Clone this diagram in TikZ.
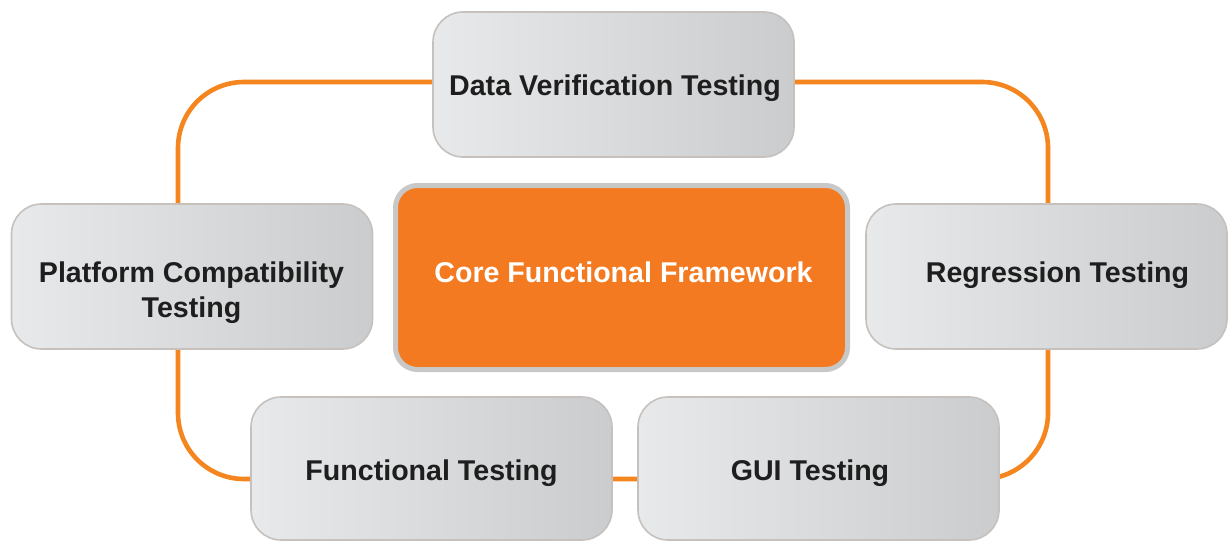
\documentclass[tikz,border=0pt]{standalone}
\usepackage{fontspec}
\setmainfont{Liberation Sans}
\definecolor{loop}{HTML}{F5861F}
\definecolor{coreorange}{HTML}{F37A20}
\definecolor{coreedge}{HTML}{C8C8C8}
\definecolor{boxedge}{HTML}{C6C1BC}
\definecolor{boxlight}{HTML}{E8E9EB}
\definecolor{boxdark}{HTML}{CBCCCE}
\definecolor{ink}{HTML}{1E1E1E}
\tikzset{
  testbox/.style={rounded corners=30pt, draw=boxedge, line width=1.6pt,
    left color=boxlight, right color=boxdark,
    minimum width=361pt, minimum height=145pt, inner sep=0pt},
  corebox/.style={rounded corners=22pt, draw=coreedge, line width=5pt,
    fill=coreorange, minimum width=452pt, minimum height=184pt, inner sep=0pt},
  lbl/.style={font=\fontsize{28.6}{35}\selectfont\bfseries, text=ink,
    anchor=base, inner sep=0pt},
  corelbl/.style={lbl, text=white},
  cycle/.style={draw=loop, line width=4.6pt, rounded corners=66pt}
}
\begin{document}
\begin{tikzpicture}[x=1pt,y=-1pt]
  \useasboundingbox (0,0) rectangle (1231,544);
  \fill[white] (0,0) rectangle (1231,544);

  % the testing cycle running behind the boxes
  \coordinate (cTL) at (178,82);
  \coordinate (cBR) at (1048,479);
  \draw[cycle] (cTL) rectangle (cBR);

  % boxes
  \node[testbox] (dv)  at (613.5,84.5) {};
  \node[testbox] (pc)  at (192,276.5) {};
  \node[testbox] (rt)  at (1046.5,276.5) {};
  \node[testbox, minimum height=143pt] (ft) at (431.5,468.5) {};
  \node[testbox, minimum height=143pt] (gui) at (818.5,468.5) {};
  \node[corebox] (core) at (621.5,277.5) {};

  % labels
  \node[lbl] (dvT) at (615,95) {Data Verification Testing};
  \node[lbl] (pcT1) at (191.5,282) {Platform Compatibility};
  \node[lbl] (pcT2) at (191.5,317) {Testing};
  \node[lbl] (rtT) at (1057.5,282) {Regression Testing};
  \node[lbl] (ftT) at (431.5,480) {Functional Testing};
  \node[lbl] (guiT) at (810,480) {GUI Testing};
  \node[corelbl] (coreT) at (623.5,282) {Core Functional Framework};
\end{tikzpicture}
\end{document}
